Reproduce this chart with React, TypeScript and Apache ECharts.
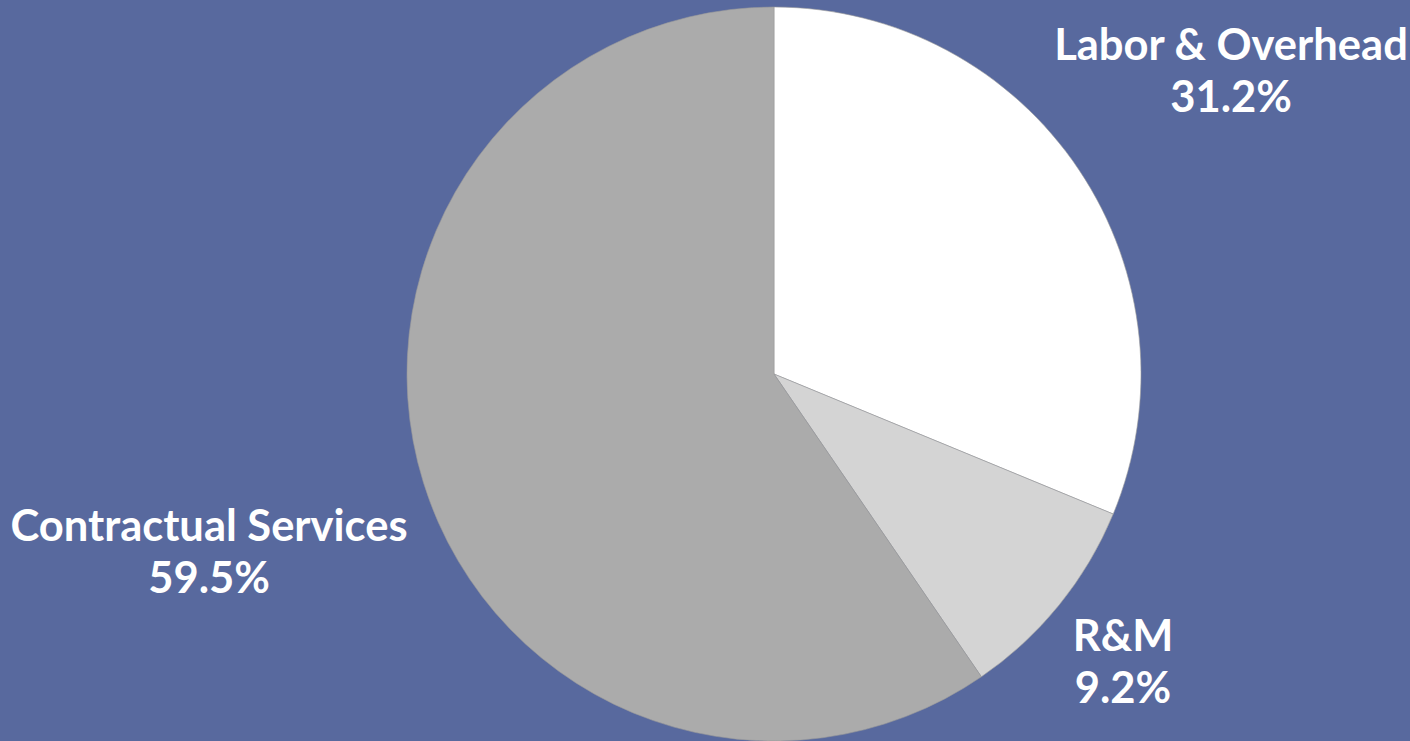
import React, { useEffect, useRef } from "react";
import * as echarts from "echarts";

const categories = ["Labor & Overhead", "R&M", "Contractual Services"];
const values = [31.2, 9.2, 59.5];
const sliceColors = ["#ffffff", "#d4d4d4", "#ababab"];
const labelSpots = [
  [1231, 69],
  [1123, 660],
  [209, 550],
];

export default function App() {
  const ref = useRef<HTMLDivElement>(null);
  useEffect(() => {
    document.body.style.margin = "0";
    const chart = echarts.init(ref.current!, null, { renderer: "svg" });
    chart.setOption({
      animation: false,
      backgroundColor: "#58699e",
      series: [
        {
          type: "pie",
          center: [774, 374],
          radius: 367,
          startAngle: 90,
          clockwise: true,
          data: categories.map((name, i) => ({
            name,
            value: values[i],
            itemStyle: { color: sliceColors[i] },
          })),
          itemStyle: { borderColor: "#9a9a9a", borderWidth: 0.6 },
          label: {
            show: true,
            position: "outside",
            formatter: (p: any) => `${p.name}\n${p.value.toFixed(1)}%`,
            color: "#ffffff",
            fontFamily: "Lato",
            fontWeight: "bold",
            fontSize: 43.5,
            lineHeight: 52,
            align: "center",
            overflow: "none",
            width: 600,
          },
          labelLine: { show: false },
          labelLayout: (params: any) => ({
            x: labelSpots[params.dataIndex][0],
            y: labelSpots[params.dataIndex][1],
            align: "center",
            verticalAlign: "middle",
          }),
          emphasis: { disabled: true },
        },
      ],
    });
    return () => chart.dispose();
  }, []);
  return <div ref={ref} style={{ width: 1410, height: 741 }} />;
}
